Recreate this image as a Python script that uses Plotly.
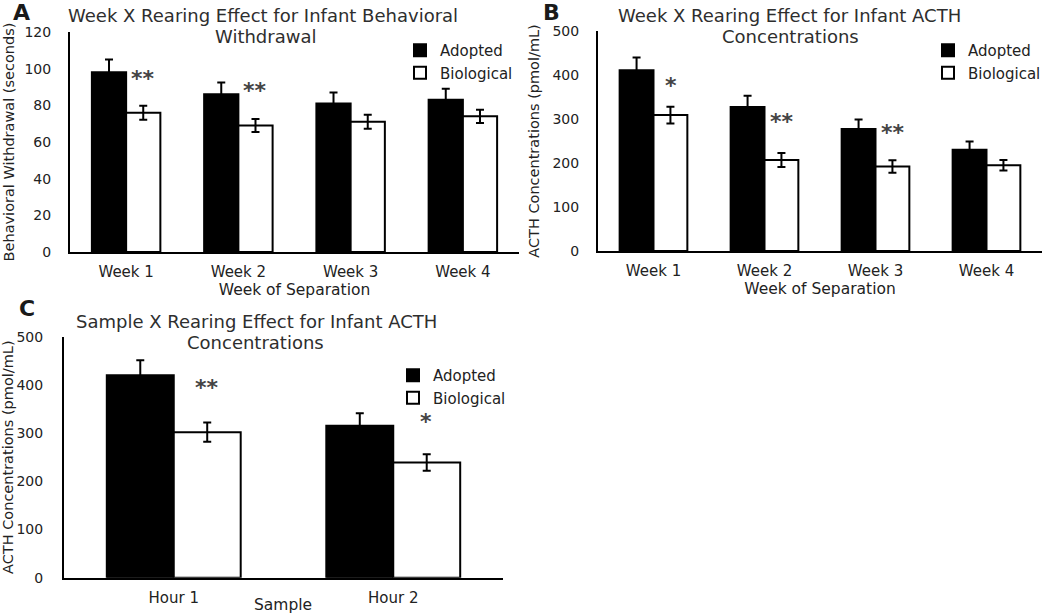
import plotly.graph_objects as go

# --- data ---
weeks = ["Week 1", "Week 2", "Week 3", "Week 4"]
hours = ["Hour 1", "Hour 2"]

# A: behavioral withdrawal (seconds)
wd_adopted = [98, 86, 81, 83]
wd_adopted_err = [7, 6.5, 6, 6]
wd_bio = [76, 69, 71, 74]
wd_bio_err = [3.8, 3.6, 3.8, 3.6]

# B: ACTH by week (pmol/mL)
acth_wk_adopted = [411, 327, 277, 230]
acth_wk_adopted_err = [29, 26, 22, 19]
acth_wk_bio = [309, 207, 192, 195]
acth_wk_bio_err = [19, 16, 14, 12]

# C: ACTH by sample hour (pmol/mL)
acth_hr_adopted = [420, 315]
acth_hr_adopted_err = [31, 26]
acth_hr_bio = [302, 239]
acth_hr_bio_err = [20, 17]

# significance marks: (category, y, text)
stars_a = [("Week 1", 97, "**"), ("Week 2", 90, "**")]
stars_b = [("Week 1", 384, "*"), ("Week 2", 302, "**"), ("Week 3", 277, "**")]
stars_c = [("Hour 1", 402, "**"), ("Hour 2", 332, "*")]

FONT = "DejaVu Sans, Arial, sans-serif"
TXT = "#222222"
W, H = 1050, 615

fig = go.Figure()


def add_pair(cats, adop, adop_err, bio, bio_err, xa, ya, leg):
    fig.add_trace(go.Bar(
        x=cats, y=adop, name="Adopted", xaxis=xa, yaxis=ya, legend=leg,
        marker=dict(color="black", line=dict(color="black", width=2)),
        error_y=dict(type="data", array=adop_err, color="black", thickness=2, width=4),
    ))
    fig.add_trace(go.Bar(
        x=cats, y=bio, name="Biological", xaxis=xa, yaxis=ya, legend=leg,
        marker=dict(color="white", line=dict(color="black", width=2)),
        error_y=dict(type="data", array=bio_err, color="black", thickness=2, width=4),
    ))


add_pair(weeks, wd_adopted, wd_adopted_err, wd_bio, wd_bio_err, "x", "y", "legend")
add_pair(weeks, acth_wk_adopted, acth_wk_adopted_err, acth_wk_bio, acth_wk_bio_err, "x2", "y2", "legend2")
add_pair(hours, acth_hr_adopted, acth_hr_adopted_err, acth_hr_bio, acth_hr_bio_err, "x3", "y3", "legend3")

axis_common = dict(showline=True, linecolor="black", linewidth=2, showgrid=False,
                   zeroline=False, ticks="", automargin=False)
xtick = dict(family=FONT, size=15, color=TXT)
ytick = dict(family=FONT, size=14, color=TXT)
xtitle_font = dict(family=FONT, size=15.5, color=TXT)
ytitle_font = dict(family=FONT, size=14.5, color=TXT)
leg_font = dict(family=FONT, size=15, color=TXT)


def px(x):
    return x / W


def py(y):
    return 1 - y / H


fig.update_layout(
    width=W, height=H,
    margin=dict(l=0, r=0, t=0, b=0, autoexpand=False),
    paper_bgcolor="white", plot_bgcolor="white",
    barmode="group", bargap=0.39, bargroupgap=0,
    font=dict(family=FONT, color=TXT),
    xaxis=dict(domain=[px(70), px(519)], anchor="y", ticklabelstandoff=5, tickfont=xtick,
               title=dict(text="Week of Separation", font=xtitle_font, standoff=0), **axis_common),
    yaxis=dict(domain=[py(252), py(32)], anchor="x", range=[0, 120], dtick=20, tickfont=ytick,
               ticklabelstandoff=14,
               title=dict(text="Behavioral Withdrawal (seconds)", font=ytitle_font, standoff=6), **axis_common),
    xaxis2=dict(domain=[px(598), px(1042)], anchor="y2", ticklabelstandoff=5, tickfont=xtick,
                title=dict(text="Week of Separation", font=xtitle_font, standoff=0), **axis_common),
    yaxis2=dict(domain=[py(251), py(31)], anchor="x2", range=[0, 500], dtick=100, tickfont=ytick,
                ticklabelstandoff=14,
                title=dict(text="ACTH Concentrations (pmol/mL)", font=ytitle_font, standoff=9), **axis_common),
    xaxis3=dict(domain=[px(64), px(503)], anchor="y3", ticklabelstandoff=5, tickfont=xtick, **axis_common),
    yaxis3=dict(domain=[py(577.7), py(336.7)], anchor="x3", range=[0, 500], dtick=100, tickfont=ytick,
                ticklabelstandoff=16,
                title=dict(text="ACTH Concentrations (pmol/mL)", font=ytitle_font, standoff=3), **axis_common),
    legend=dict(x=px(400), y=py(34), xanchor="left", yanchor="top", bgcolor="rgba(0,0,0,0)",
                font=leg_font, tracegroupgap=0),
    legend2=dict(x=px(928), y=py(34), xanchor="left", yanchor="top", bgcolor="rgba(0,0,0,0)",
                 font=leg_font, tracegroupgap=0),
    legend3=dict(x=px(393), y=py(359), xanchor="left", yanchor="top", bgcolor="rgba(0,0,0,0)",
                 font=leg_font, tracegroupgap=0),
)

# panel titles, one annotation per line
title_lines = [
    (263, 15, "Week X Rearing Effect for Infant Behavioral"),
    (265, 36, "Withdrawal"),
    (789, 15, "Week X Rearing Effect for Infant ACTH"),
    (790, 36, "Concentrations"),
    (256, 321, "Sample X Rearing Effect for Infant ACTH"),
    (255, 342, "Concentrations"),
]
for x, y, t in title_lines:
    fig.add_annotation(x=px(x), y=py(y), xref="paper", yref="paper", text=t, showarrow=False,
                       xanchor="center", yanchor="middle",
                       font=dict(family=FONT, size=18, color="#2e2e2e"))

letters = [(21, 12, "A"), (551, 13, "B"), (27, 308, "C")]
for x, y, t in letters:
    fig.add_annotation(x=px(x), y=py(y), xref="paper", yref="paper", text="<b>%s</b>" % t, showarrow=False,
                       xanchor="center", yanchor="middle",
                       font=dict(family=FONT, size=22, color="#1a1a1a"))

# C x-axis title sits almost level with the tick labels
fig.add_annotation(x=px(283), y=py(605), xref="paper", yref="paper", text="Sample",
                   showarrow=False, xanchor="center", yanchor="middle", font=xtitle_font)

# significance stars, placed over the Biological bar of each group
for stars, xa, ya, shift, ys in [(stars_a, "x", "y", 17, -4), (stars_b, "x2", "y2", 17, -3),
                                 (stars_c, "x3", "y3", 33, -4)]:
    for cat, yv, t in stars:
        fig.add_annotation(x=cat, y=yv, xref=xa, yref=ya, text="<b>%s</b>" % t, showarrow=False,
                           xshift=shift, yshift=ys, xanchor="center", yanchor="middle",
                           font=dict(family=FONT, size=22, color="#444444"))

fig.write_html("out.html", config={"displayModeBar": False},
               post_script="document.body.style.margin='0px';")
